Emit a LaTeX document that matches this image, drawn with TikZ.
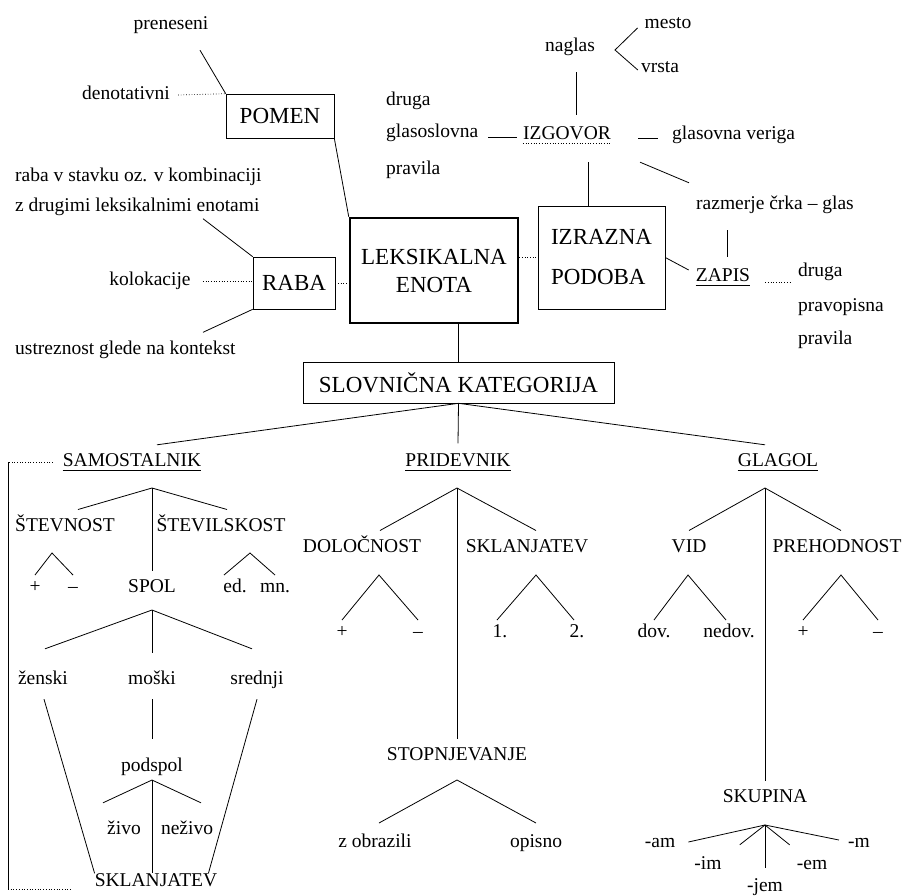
\documentclass[tikz,border=0pt]{standalone}
\usepackage{fontspec}
\setmainfont{Liberation Serif}
\newcommand\lblfont{\fontsize{19.5pt}{23pt}\selectfont}
\newcommand\boxfont{\fontsize{23pt}{28pt}\selectfont}
\tikzset{
	lbl/.style={font=\lblfont, inner sep=0pt, text height=13pt, text depth=4pt},
	leaf/.style={lbl, outer ysep=4.5pt},
	cat/.style={lbl, outer ysep=9pt},
	box/.style={draw, line width=0.6pt, font=\boxfont, inner sep=0pt},
	tree/.style={line width=0.8pt},
	dots/.style={dotted, line width=0.7pt}
}
\begin{document}
\begin{tikzpicture}[x=1pt,y=-1pt]
	\useasboundingbox (0,0) rectangle (902,895);
	
	% pomen
	\node[lbl] (pren) at (171,25) {preneseni};
	\node[lbl] (deno) at (126,95) {denotativni};
	\node[box, minimum width=108pt, minimum height=44pt] (pomen) at (280,116) {POMEN};
	\draw[tree] ([xshift=29pt,yshift=-16.5pt]pren.south) -- (pomen.north west);
	\draw[dots] ([xshift=8pt]deno.east) -- (pomen.north west);
	
	% raba
	\node[lbl, anchor=west] (rabaA) at (15,177) {raba v stavku oz. v kombinaciji};
	\node[lbl, anchor=west] (rabaB) at (15,207) {z drugimi leksikalnimi enotami};
	\node[lbl] (kolo) at (150,281) {kolokacije};
	\node[lbl, anchor=west] (ustr) at (15,350) {ustreznost glede na kontekst};
	\node[box, minimum width=82pt, minimum height=52pt] (raba) at (294,283) {RABA};
	\draw[tree] ([xshift=188pt,yshift=-3pt]rabaB.south west) -- (raba.north west);
	\draw[dots] ([xshift=12pt]kolo.east) -- (kolo.east -| raba.west);
	\draw[tree] (raba.south west) -- ([xshift=188pt,yshift=9pt]ustr.north west);
	
	% leksikalna enota
	\node[box, line width=2.5pt, minimum width=168pt, minimum height=105pt, align=center] (leks) at (434,270.5) {LEKSIKALNA\\ENOTA};
	\draw[tree] (pomen.south east) -- (leks.north west);
	\draw[dots] (raba.east) -- (raba.east -| leks.west);
	
	% izgovor
	\node[lbl] (nagl) at (570,47) {naglas};
	\node[lbl] (mesto) at (668,24) {mesto};
	\node[lbl] (vrsta) at (660,68) {vrsta};
	\coordinate (naglT) at (615,50);
	\draw[tree] ([xshift=-7pt,yshift=-4pt]mesto.west) -- (naglT) -- ([xshift=-3pt,yshift=-2pt]vrsta.west);
	
	\node[lbl, anchor=west] (drugaA) at (386,101) {druga};
	\node[lbl, anchor=west] (glaso) at (386,133) {glasoslovna};
	\node[lbl, anchor=west] (pravA) at (386,170) {pravila};
	\node[lbl] (izg) at (567,135) {IZGOVOR};
	\node[lbl, anchor=west] (veriga) at (672,135) {glasovna veriga};
	\draw[tree] ([xshift=10pt,yshift=-4pt]glaso.east) -- ([xshift=-6pt,yshift=-2pt]izg.west);
	\draw[tree] ([xshift=27pt,yshift=-3pt]izg.east) -- ([xshift=-14pt,yshift=-3pt]veriga.west);
	\draw[tree] ([xshift=6pt,yshift=-16.5pt]nagl.south) -- ([xshift=9pt,yshift=11.5pt]izg.north);
	\draw[dots] ([yshift=-3.5pt]izg.base west) -- ([yshift=-3.5pt]izg.base east);
	
	% izrazna podoba
	\node[box, minimum width=127pt, minimum height=103pt, align=left, font=\fontsize{23pt}{40pt}\selectfont] (izraz) at (601.5,257.5) {IZRAZNA\\PODOBA};
	\draw[tree] ([xshift=21pt,yshift=-18.5pt]izg.south) -- ([xshift=-13.5pt]izraz.north);
	\draw[dots] (izraz.west -| leks.east) -- (izraz.west);
	
	\node[lbl] (razm) at (775,205) {razmerje črka – glas};
	\draw[tree] ([xshift=29pt,yshift=-18.5pt]izg.south east) -- ([xshift=-7pt,yshift=13.5pt]razm.north west);
	\node[lbl] (zapis) at (723,277) {ZAPIS};
	\draw[tree] ([xshift=-48pt,yshift=-16.5pt]razm.south) -- ([xshift=4pt,yshift=11.5pt]zapis.north);
	\draw[tree] (izraz.east) -- ([xshift=-7pt,yshift=7pt]zapis.west);
	\node[lbl, anchor=west] (drugaB) at (798,272) {druga};
	\node[lbl, anchor=west] (pravop) at (798,307) {pravopisna};
	\node[lbl, anchor=west] (pravB) at (798,340) {pravila};
	\draw[dots] ([xshift=15pt,yshift=-5pt]zapis.east) -- ([xshift=-8pt,yshift=-10pt]drugaB.west);
	
	% slovnicna kategorija
	\node[box, minimum width=311pt, minimum height=41pt] (slov) at (458.5,382.5) {SLOVNIČNA KATEGORIJA};
	\draw[tree] (leks.south -| slov.north) -- (slov.north);
	
	\node[lbl] (sam) at (132,462) {SAMOSTALNIK};
	\node[lbl] (prid) at (458,462) {PRIDEVNIK};
	\node[lbl] (glag) at (778,462) {GLAGOL};
	\draw[tree] (slov.south) -- ([xshift=25pt,yshift=8.5pt]sam.north);
	\draw[tree] (slov.south) -- ([yshift=10pt]prid.north);
	\draw[tree] (slov.south) -- ([xshift=-13pt,yshift=8.5pt]glag.north);
	\foreach \n in {sam,prid,glag,zapis}
		\draw[tree] ([yshift=-3.5pt]\n.base west) -- ([yshift=-3.5pt]\n.base east);
	
	% samostalnik
	\coordinate (samT) at (152,488);
	\node[cat] (stevn) at (65,527) {ŠTEVNOST};
	\node[cat] (stevil) at (221,527) {ŠTEVILSKOST};
	\node[cat] (spol) at (152,588) {SPOL};
	\draw[tree] ([xshift=13pt]stevn.north) -- (samT) -- ([xshift=6pt]stevil.north);
	\draw[tree] (samT) -- (spol.north);
	
	\coordinate (stevnT) at (52,553);
	\node[leaf] (plusA) at (35,588) {+};
	\node[leaf] (minusA) at (73,588) {–};
	\draw[tree] (plusA.north) -- (stevnT) -- (minusA.north);
	
	\coordinate (stevilT) at (250,553);
	\node[leaf] (ed) at (235,588) {ed.};
	\node[leaf] (mn) at (275,588) {mn.};
	\draw[tree] ([xshift=-11pt]ed.north) -- (stevilT) -- (mn.north);
	
	\coordinate (spolT) at (152,610);
	\node[lbl] (zen) at (43,680) {ženski};
	\node[lbl] (mos) at (152,680) {moški};
	\node[lbl] (sred) at (257,680) {srednji};
	\draw[tree] ([xshift=2pt,yshift=22.5pt]zen.north) -- (spolT) -- ([xshift=-5pt,yshift=22.5pt]sred.north);
	\draw[tree] (spolT) -- ([yshift=18.5pt]mos.north);
	
	\node[lbl] (pods) at (152,767) {podspol};
	\draw[tree] ([yshift=-10.5pt]mos.south) -- ([yshift=19.5pt]pods.north);
	\coordinate (podsT) at (152,780);
	\node[lbl] (zivo) at (124,830) {živo};
	\node[lbl] (neziv) at (187,830) {neživo};
	\draw[tree] ([xshift=-21pt,yshift=18.5pt]zivo.north) -- (podsT) -- ([xshift=14pt,yshift=18.5pt]neziv.north);
	
	\node[lbl] (sklB) at (156,882) {SKLANJATEV};
	\draw[tree] (podsT) -- (podsT |- sklB.north);
	\draw[tree] ([xshift=1pt,yshift=-10.5pt]zen.south) -- (sklB.north west);
	\draw[tree] ([yshift=-10.5pt]sred.south) -- ([xshift=-9pt]sklB.north east);
	
	\coordinate (frameT) at (8,462);
	\coordinate (frameB) at (8,889.5);
	\draw[dots] ([xshift=-10pt]sam.west) -- (frameT);
	\draw[tree] (frameT) -- (frameB);
	\draw[dots] (frameB) -- ([xshift=-22pt,yshift=-3pt]sklB.base west);
	
	% pridevnik
	\coordinate (pridT) at (457,488);
	\node[cat] (dol) at (362,548) {DOLOČNOST};
	\node[cat] (sklM) at (527,548) {SKLANJATEV};
	\node[cat] (stop) at (457,756) {STOPNJEVANJE};
	\draw[tree] ([xshift=18pt]dol.north) -- (pridT) -- ([xshift=9pt]sklM.north);
	\draw[tree] (pridT) -- (stop.north);
	
	\coordinate (dolT) at (379,575);
	\node[leaf] (plusB) at (342,633) {+};
	\node[leaf] (minusB) at (418,633) {–};
	\draw[tree] (plusB.north) -- (dolT) -- (minusB.north);
	
	\coordinate (sklMT) at (536,575);
	\node[leaf] (one) at (500,633) {1.};
	\node[leaf] (two) at (577,633) {2.};
	\draw[tree] ([xshift=-3pt]one.north) -- (sklMT) -- ([xshift=-3pt]two.north);
	
	\coordinate (stopT) at (457,780);
	\node[leaf] (obr) at (375,843) {z obrazili};
	\node[leaf] (opis) at (536,843) {opisno};
	\draw[tree] ([xshift=4pt,yshift=7pt]obr.north) -- (stopT) -- ([yshift=7pt]opis.north);
	
	% glagol
	\coordinate (glagT) at (765,488);
	\node[cat] (vid) at (689,548) {VID};
	\node[cat] (preh) at (837,548) {PREHODNOST};
	\node[cat] (skup) at (765,798) {SKUPINA};
	\draw[tree] (vid.north) -- (glagT) -- ([xshift=4pt]preh.north);
	\draw[tree] (glagT) -- (skup.north);
	
	\coordinate (vidT) at (688,575);
	\node[leaf] (dov) at (654,633) {dov.};
	\node[leaf] (nedov) at (729,633) {nedov.};
	\draw[tree] (dov.north) -- (vidT) -- ([xshift=-3pt]nedov.north);
	
	\coordinate (prehT) at (841,575);
	\node[leaf] (plusC) at (803,633) {+};
	\node[leaf] (minusC) at (878,633) {–};
	\draw[tree] (plusC.north) -- (prehT) -- (minusC.north);
	
	\coordinate (skupT) at (765,825);
	\node[lbl] (am) at (660,843) {-am};
	\node[lbl] (im) at (708,865) {-im};
	\node[lbl] (jem) at (765,887) {-jem};
	\node[lbl] (em) at (812,865) {-em};
	\node[lbl] (m) at (859,843) {-m};
	\draw[tree] ([xshift=13pt,yshift=1pt]am.east) -- (skupT) -- ([xshift=-9pt,yshift=3pt]m.west);
	\draw[tree] ([xshift=18pt,yshift=11.5pt]im.north east) -- (skupT) -- ([xshift=-7pt,yshift=11.5pt]em.north west);
	\draw[tree] (skupT) -- ([yshift=10.5pt]jem.north);
	
\end{tikzpicture}
\end{document}
